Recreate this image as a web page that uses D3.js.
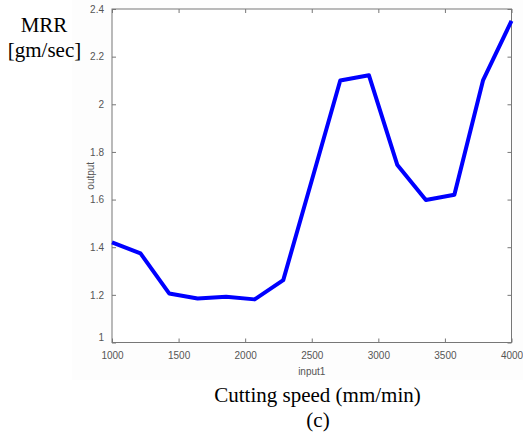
<!DOCTYPE html>
<html>
<head>
<meta charset="utf-8">
<script src="https://cdn.jsdelivr.net/npm/d3@7"></script>
<style>
  body { margin: 0; background: #fff; }
  svg { display: block; }
</style>
</head>
<body>
<svg id="chart" width="523" height="436"></svg>
<script>
// cutting speed (mm/min) vs MRR (gm/sec)
const speeds = [1000, 1214, 1429, 1643, 1857, 2071, 2286, 2500, 2714, 2929, 3143, 3357, 3571, 3786, 4000];
const mrr = [1.42, 1.374, 1.206, 1.185, 1.192, 1.181, 1.262, 1.68, 2.1, 2.122, 1.745, 1.598, 1.62, 2.1, 2.35];
const xTicks = [1000, 1500, 2000, 2500, 3000, 3500, 4000];
const yTicks = [1, 1.2, 1.4, 1.6, 1.8, 2, 2.2, 2.4];

const svg = d3.select('#chart');
const L = 112, R = 511.5, T = 9, B = 342.5;

// faint matlab figure background
svg.append('rect').attr('x', 72).attr('y', 0).attr('width', 451).attr('height', 380).attr('fill', '#fdfdfd');
svg.append('rect').attr('x', L).attr('y', T).attr('width', R-L).attr('height', B-T).attr('fill', '#fff');

const x = d3.scaleLinear().domain([1000, 4000]).range([L, R]);
const y = d3.scaleLinear().domain([1, 2.4]).range([B, T]);

const axCol = '#777', txtCol = '#555';
const tickFont = '10px "Liberation Sans", Arial, sans-serif';

function styleAxis(g, showText){
  g.select('.domain').remove();
  g.selectAll('.tick line').attr('stroke', axCol);
  g.selectAll('.tick text').attr('fill', txtCol).style('font', tickFont);
  if(!showText) g.selectAll('.tick text').remove();
}

svg.append('g').attr('transform', 'translate(0,' + B + ')')
  .call(d3.axisBottom(x).tickValues(xTicks).tickFormat(d3.format('d')).tickSizeInner(-4).tickSizeOuter(0).tickPadding(9))
  .call(g => styleAxis(g, true));
svg.append('g').attr('transform', 'translate(0,' + T + ')')
  .call(d3.axisTop(x).tickValues(xTicks).tickSizeInner(-4).tickSizeOuter(0))
  .call(g => styleAxis(g, false));
svg.append('g').attr('transform', 'translate(' + L + ',0)')
  .call(d3.axisLeft(y).tickValues(yTicks).tickFormat(d => String(d)).tickSizeInner(-4).tickSizeOuter(0).tickPadding(8))
  .call(g => styleAxis(g, true))
  .call(g => g.selectAll('.tick').filter(d => d === 1).select('text').attr('dy', '-0.2em'));
svg.append('g').attr('transform', 'translate(' + R + ',0)')
  .call(d3.axisRight(y).tickValues(yTicks).tickSizeInner(-4).tickSizeOuter(0))
  .call(g => styleAxis(g, false));

// box
svg.append('rect').attr('x', L).attr('y', T).attr('width', R-L).attr('height', B-T)
  .attr('fill', 'none').attr('stroke', axCol).attr('stroke-width', 1);

// line
svg.append('path')
  .datum(speeds.map((s, i) => [s, mrr[i]]))
  .attr('fill', 'none').attr('stroke', '#0000ff').attr('stroke-width', 4)
  .attr('stroke-linejoin', 'round')
  .attr('d', d3.line().x(d => x(d[0])).y(d => y(d[1])));

// small matlab axis labels
svg.append('text').attr('x', (L+R)/2).attr('y', 375).attr('text-anchor', 'middle')
  .attr('fill', txtCol).style('font', tickFont).text('input1');
svg.append('text').attr('transform', 'translate(94,' + ((T+B)/2) + ') rotate(-90)')
  .attr('text-anchor', 'middle').attr('fill', txtCol).style('font', tickFont).text('output');

// serif annotations
const serif = '"Liberation Serif", "Times New Roman", serif';
svg.append('text').attr('x', 44).attr('y', 32).attr('text-anchor', 'middle')
  .style('font', '21px ' + serif).attr('fill', '#000').text('MRR');
svg.append('text').attr('x', 44.5).attr('y', 56.5).attr('text-anchor', 'middle')
  .style('font', '21px ' + serif).attr('fill', '#000').text('[gm/sec]');
svg.append('text').attr('x', 317.5).attr('y', 401.5).attr('text-anchor', 'middle')
  .style('font', '21px ' + serif).attr('fill', '#000').text('Cutting speed (mm/min)');
svg.append('text').attr('x', 318).attr('y', 427).attr('text-anchor', 'middle')
  .style('font', '21px ' + serif).attr('fill', '#000').text('(c)');
</script>
</body>
</html>
